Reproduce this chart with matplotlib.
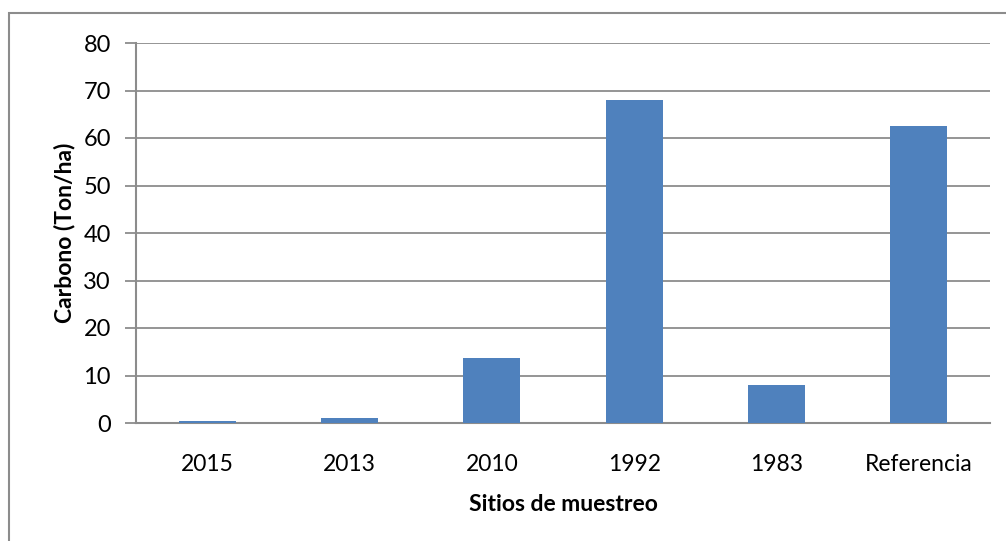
import matplotlib.pyplot as plt
from matplotlib.patches import Rectangle

sitios = ["2015", "2013", "2010", "1992", "1983", "Referencia"]
carbono = [0.4, 1.1, 13.7, 68.1, 8.0, 62.5]
y_ticks = [0, 10, 20, 30, 40, 50, 60, 70, 80]

plt.rcParams["font.family"] = ["Lato", "DejaVu Sans"]

fig = plt.figure(figsize=(10.06, 5.41), dpi=100)
W, H = 1006, 541

# chart outline (only left and top edges fall inside the picture)
fig.add_artist(Rectangle((9 / W, -0.1), 1.2, 1 - 13 / H + 0.1, transform=fig.transFigure,
                         fill=False, edgecolor="#8c8c8c", linewidth=1.5))

ax = fig.add_axes([136 / W, 1 - 423 / H, (990 - 136) / W, (423 - 43) / H])
x = range(len(sitios))
ax.bar(x, carbono, width=0.4, color="#4f81bd", zorder=3)

ax.set_xlim(-0.5, len(sitios) - 0.5)
ax.set_ylim(0, 80)
ax.set_yticks(y_ticks)
ax.set_xticks(list(x))
ax.set_xticklabels(sitios)
ax.grid(axis="y", color="#8c8c8c", linewidth=1.3, zorder=0)

for side in ["top", "right"]:
    ax.spines[side].set_visible(False)
for side in ["left", "bottom"]:
    ax.spines[side].set_color("#8c8c8c")
    ax.spines[side].set_linewidth(1.5)

ax.tick_params(axis="y", length=8, width=1.3, color="#8c8c8c", labelsize=17, pad=10)
ax.tick_params(axis="x", length=0, labelsize=16.5, pad=22)

ax.set_xlabel("Sitios de muestreo", fontsize=16.5, fontweight="bold", labelpad=14)
ax.set_ylabel("Carbono (Ton/ha)", fontsize=16.5, fontweight="bold", labelpad=6)

fig.savefig("out.png", dpi=100)
